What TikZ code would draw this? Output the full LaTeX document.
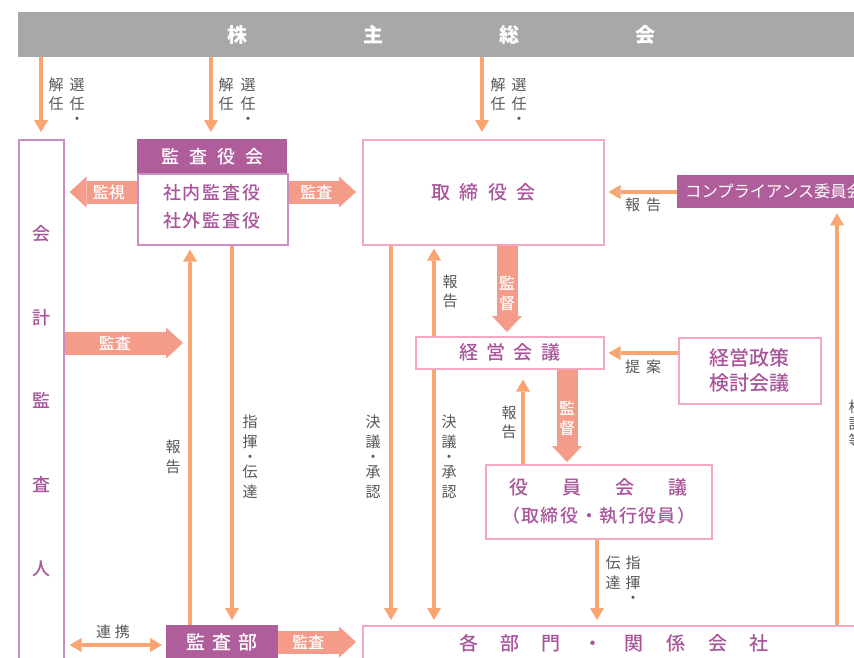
\documentclass[tikz,border=0pt]{standalone}
\usepackage{fontspec}
\setmainfont{Noto Sans CJK JP}
\newfontfamily\medfont{Noto Sans CJK JP Medium}
\usetikzlibrary{arrows.meta,calc}
\definecolor{barGray}{HTML}{A7A8AA}
\definecolor{purp}{HTML}{B05E9B}
\definecolor{purpText}{HTML}{A9549B}
\definecolor{lpurp}{HTML}{C98FC3}
\definecolor{pinkB}{HTML}{F3A7C0}
\definecolor{salmon}{HTML}{F49B89}
\definecolor{orng}{HTML}{F8A571}
\definecolor{lab}{HTML}{595757}
\newcommand{\gp}[1]{\hspace{#1pt}}
\tikzset{
  boxP/.style={draw=pinkB, line width=1.5pt, fill=white, inner sep=0pt, anchor=north west, text=purpText},
  boxL/.style={draw=lpurp, line width=1.6pt, fill=white, inner sep=0pt, anchor=north west},
  boxF/.style={fill=purp, inner sep=0pt, anchor=north west, text=white},
  lbl/.style={text=lab, font=\fontsize{15}{19}\selectfont, inner sep=0pt, align=center},
  fatlbl/.style={text=white, font=\fontsize{16}{20}\selectfont\medfont, inner sep=0pt, align=center},
  thinarr/.style={draw=orng, line width=4pt, -{Triangle[length=12pt,width=14pt,line width=0pt]}},
  fatarr/.style={draw=salmon, line width=23pt, -{Triangle[length=17pt,width=31pt,line width=0pt]}},
  fatv/.style={draw=salmon, line width=21pt, -{Triangle[length=16pt,width=30pt,line width=0pt]}},
}
\begin{document}
\begin{tikzpicture}[x=1pt,y=-1pt]
\useasboundingbox (0,0) rectangle (854,657);
\clip (0,0) rectangle (854,657);
\fill[white] (0,0) rectangle (854,657);

% columns and rows
\coordinate (colA) at (41,0);
\coordinate (colB) at (211,0);
\coordinate (colC) at (482,0);
\coordinate (colD) at (190,0);
\coordinate (colE) at (232,0);
\coordinate (colF) at (391,0);
\coordinate (colG) at (434,0);
\coordinate (colH) at (507,0);
\coordinate (colI) at (523,0);
\coordinate (colJ) at (567,0);
\coordinate (colK) at (597,0);
\coordinate (colL) at (837,0);
\coordinate (rowA) at (0,192);
\coordinate (rowB) at (0,343);
\coordinate (rowC) at (0,353);
\coordinate (rowD) at (0,642);
\coordinate (rowE) at (0,645);

% boxes
\node[fill=barGray, minimum width=847pt, minimum height=45pt, inner sep=0pt, anchor=north west, text=white,
      font=\fontsize{20}{24}\selectfont\bfseries] (bar) at (18,12) {株\gp{116}主\gp{116}総\gp{116}会};

\node[boxL, minimum width=45pt, minimum height=560pt] (kaikei) at (18,139) {};
\node[text=purpText, font=\fontsize{18}{83.7}\selectfont\medfont, inner sep=0pt, align=center, anchor=north] (kaikeiT) at (41,225) {会\\計\\監\\査\\人};

\node[boxL, minimum width=150pt, minimum height=71pt] (kansaB) at (137,173) {};
\node[boxF, minimum width=150pt, minimum height=34pt, font=\fontsize{18}{22}\selectfont\medfont] (kansaH) at (137,139) {監\gp{10}査\gp{10}役\gp{10}会};
\node[text=purpText, font=\fontsize{18}{28}\selectfont\medfont, inner sep=0pt, align=center] (kansaT) at (212,207) {社\gp{2}内\gp{2}監\gp{2}査\gp{2}役\\社\gp{2}外\gp{2}監\gp{2}査\gp{2}役};

\node[boxP, minimum width=241pt, minimum height=105pt, font=\fontsize{19}{23}\selectfont\medfont] (tori) at (362,139) {取\gp{9.5}締\gp{9.5}役\gp{9.5}会};

\node[boxF, minimum width=200pt, minimum height=33pt] (comp) at (677,175) {};
\node[text=white, font=\fontsize{16.3}{20}\selectfont, inner sep=0pt, anchor=west] (compT) at (685,191.5) {コンプライアンス委員会};

\node[boxP, minimum width=188pt, minimum height=32pt, font=\fontsize{19}{23}\selectfont\medfont] (keiei) at (415,336) {経\gp{8.5}営\gp{8.5}会\gp{8.5}議};

\node[boxP, minimum width=142pt, minimum height=66pt, align=center, font=\fontsize{20}{25}\selectfont\medfont] (seisaku) at (678,337) {経営政策\\検討会議};

\node[boxP, minimum width=226pt, minimum height=74pt, align=center, font=\fontsize{19}{28}\selectfont\medfont] (yakuin) at (485,464) {役\gp{34}員\gp{34}会\gp{34}議\\{\fontsize{18}{28}\selectfont （\gp{1.5}取\gp{1.5}締\gp{1.5}役\gp{1.5}・\gp{1.5}執\gp{1.5}行\gp{1.5}役\gp{1.5}員\gp{1.5}）}};

\node[boxP, minimum width=502pt, minimum height=34pt, font=\fontsize{19}{23}\selectfont\medfont] (kakubu) at (362,625) {各\gp{22.5}部\gp{22.5}門\gp{22.5}・\gp{22.5}関\gp{22.5}係\gp{22.5}会\gp{22.5}社};

\node[boxF, minimum width=112pt, minimum height=34pt, font=\fontsize{19}{23}\selectfont\medfont] (kansabu) at (166,625) {監\gp{7}査\gp{7}部};

% thin arrows from the general meeting
\draw[thinarr, shorten >=7pt] (colA |- bar.south) -- (colA |- kaikei.north);
\draw[thinarr, shorten >=7pt] (colB |- bar.south) -- (colB |- kansaH.north);
\draw[thinarr, shorten >=7pt] (colC |- bar.south) -- (colC |- tori.north);

% fat arrows
\draw[fatarr, shorten >=5pt] (kansaB.west |- rowA) -- node[fatlbl, pos=0.39] (t1) {監視} (kaikei.east |- rowA);
\draw[fatarr, shorten >=6pt] (kansaB.east |- rowA) -- node[fatlbl, pos=0.38] (t2) {監査} (tori.west |- rowA);
\draw[fatarr, shorten >=7pt] (kaikei.east |- rowB) -- node[fatlbl, pos=0.40] (t3) {監査} (colD |- rowB);
\draw[fatarr, shorten >=6pt] (kansabu.east |- rowD) -- node[fatlbl, pos=0.36] (t4) {監査} (kakubu.west |- rowD);
\draw[fatv, shorten >=4pt] (colH |- tori.south) -- node[fatlbl, pos=0.53] (t5) {監\\督} (colH |- keiei.north);
\draw[fatv, shorten >=2pt] (colJ |- keiei.south) -- node[fatlbl, pos=0.52] (t6) {監\\督} (colJ |- yakuin.north);

% thin arrows
\draw[thinarr, shorten >=4pt] (comp.west |- rowA) -- (tori.east |- rowA);
\draw[thinarr, shorten >=4pt] (seisaku.west |- rowC) -- (keiei.east |- rowC);
\draw[thinarr, {Triangle[length=12pt,width=14pt,line width=0pt]}-{Triangle[length=12pt,width=14pt,line width=0pt]}, shorten <=5pt, shorten >=4pt] (kaikei.east |- rowE) -- (kansabu.west |- rowE);
\draw[thinarr, shorten >=4pt] (colD |- kansabu.north) -- (colD |- kansaB.south);
\draw[thinarr, shorten >=5pt] (colE |- kansaB.south) -- (colE |- kansabu.north);
\draw[thinarr, shorten >=5pt] (colF |- tori.south) -- (colF |- kakubu.north);
\draw[thinarr, shorten >=3pt] (colG |- keiei.north) -- (colG |- tori.south);
\draw[thinarr, shorten >=5pt] (colG |- keiei.south) -- (colG |- kakubu.north);
\draw[thinarr, shorten >=10pt] (colI |- yakuin.north) -- (colI |- keiei.south);
\draw[thinarr, shorten >=5pt] (colK |- yakuin.south) -- (colK |- kakubu.north);
\draw[thinarr, shorten >=5pt] (colL |- kakubu.north) -- (colL |- comp.south);

% labels
\node[lbl, anchor=north] (l1a) at (77,78) {選\\任\\[-4pt]・};
\node[lbl, anchor=north] (l1b) at (56,78) {解\\任};
\node[lbl, anchor=north] (l2a) at (248,78) {選\\任\\[-4pt]・};
\node[lbl, anchor=north] (l2b) at (226,78) {解\\任};
\node[lbl, anchor=north] (l3a) at (519,78) {選\\任\\[-4pt]・};
\node[lbl, anchor=north] (l3b) at (498,78) {解\\任};
\node[lbl] (l4) at (643,205) {報\gp{6}告};
\node[lbl] (l5) at (643,367) {提\gp{6}案};
\node[lbl, anchor=north] (l6) at (450,275) {報\\告};
\node[lbl, anchor=north] (l7) at (509,406) {報\\告};
\node[lbl, anchor=north, font=\fontsize{15}{20}\selectfont] (l8) at (373,415) {決\\議\\[-5pt]・\\[-5pt]承\\認};
\node[lbl, anchor=north, font=\fontsize{15}{20}\selectfont] (l9) at (449,415) {決\\議\\[-5pt]・\\[-5pt]承\\認};
\node[lbl, anchor=north, font=\fontsize{15}{20}\selectfont] (l10) at (250,415) {指\\揮\\[-5pt]・\\[-5pt]伝\\達};
\node[lbl, anchor=north, font=\fontsize{15}{20}\selectfont] (l11) at (173,440) {報\\告};
\node[lbl, anchor=north, font=\fontsize{15}{20}\selectfont] (l12a) at (633,556) {指\\揮\\[-5pt]・};
\node[lbl, anchor=north, font=\fontsize{15}{20}\selectfont] (l12b) at (613,556) {伝\\達};
\node[lbl, anchor=north, font=\fontsize{15}{17}\selectfont] (l13) at (856,400) {検\\討\\等};
\node[lbl] (l14) at (113,632) {連\gp{4}携};
\end{tikzpicture}
\end{document}
